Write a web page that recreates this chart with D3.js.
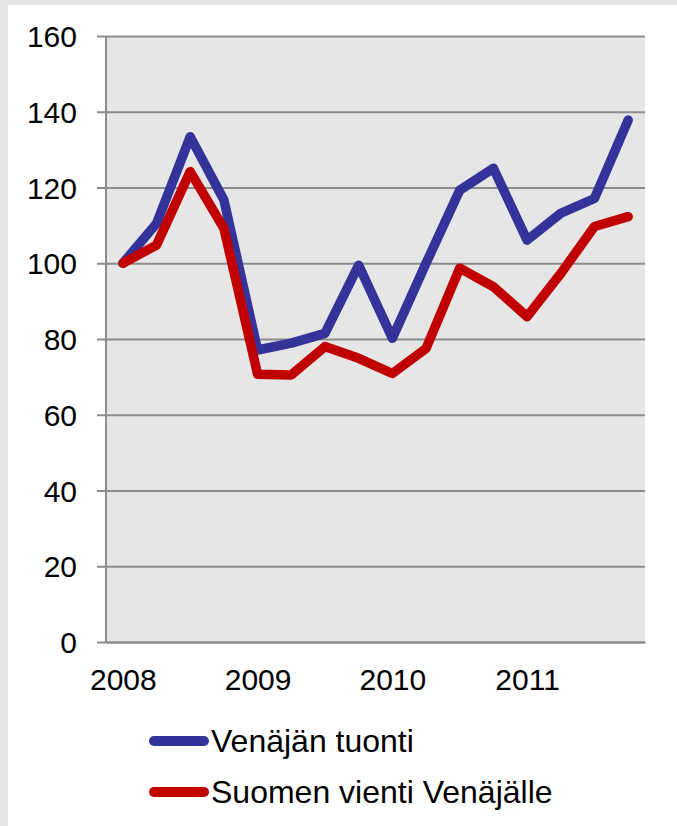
<!DOCTYPE html>
<html>
<head>
<meta charset="utf-8">
<script src="https://cdn.jsdelivr.net/npm/d3@7"></script>
<style>
  html, body { margin: 0; padding: 0; background: #e4e4e4; }
  svg { display: block; }
</style>
</head>
<body>
<script>
const quarters = ["2008Q1","2008Q2","2008Q3","2008Q4","2009Q1","2009Q2","2009Q3","2009Q4",
                  "2010Q1","2010Q2","2010Q3","2010Q4","2011Q1","2011Q2","2011Q3","2011Q4"];
const xTickLabels = {"2008Q1":"2008","2009Q1":"2009","2010Q1":"2010","2011Q1":"2011"};
const venajanTuonti = [100, 110.5, 133.4, 116.7, 77.1, 78.9, 81.5, 99.5,
                       80.2, 100, 119.3, 125.1, 106.1, 113.2, 117.1, 137.8];
const suomenVienti = [100, 104.8, 124.2, 109.2, 70.7, 70.5, 78.0, 74.9,
                      70.9, 77.5, 98.7, 93.8, 85.9, 97.3, 109.7, 112.3];
const yTicks = [0, 20, 40, 60, 80, 100, 120, 140, 160];
const seriesNames = ["Venäjän tuonti", "Suomen vienti Venäjälle"];
const seriesColors = ["#333399", "#c00000"];

(function () {
const W = 677, H = 826;
const svg = d3.select("body").append("svg").attr("width", W).attr("height", H);

// white panel
svg.append("rect").attr("x", 8).attr("y", 5).attr("width", W - 8).attr("height", H - 5).attr("fill", "#ffffff");

const pLeft = 106, pRight = 645, pTop = 36, pBottom = 642;
const x = d3.scalePoint().domain(quarters).range([pLeft, pRight]).padding(0.5);
const y = d3.scaleLinear().domain([0, 160]).range([pBottom, pTop]);

svg.append("rect").attr("x", pLeft).attr("y", pTop).attr("width", pRight - pLeft).attr("height", pBottom - pTop).attr("fill", "#e6e6e6");

const font = "'Liberation Sans', Arial, sans-serif";

// gridlines + y axis
const yAxis = d3.axisLeft(y).tickValues(yTicks).tickSize(pRight - pLeft + 9).tickPadding(20).tickFormat(d3.format("d"));
const gy = svg.append("g").attr("transform", `translate(${pRight},0)`).call(yAxis);
gy.select(".domain").remove();
gy.selectAll(".tick line").attr("stroke", "#8c8c8c").attr("stroke-width", 2);
gy.selectAll(".tick text").attr("font-family", font).attr("font-size", 30).attr("fill", "#000").attr("dy", "0.35em");

// vertical axis line
svg.append("line").attr("x1", pLeft).attr("x2", pLeft).attr("y1", pTop).attr("y2", pBottom + 1)
  .attr("stroke", "#8c8c8c").attr("stroke-width", 2);

// x axis
const xAxis = d3.axisBottom(x).tickSize(0).tickPadding(27)
  .tickValues(quarters.filter(q => xTickLabels[q])).tickFormat(q => xTickLabels[q]);
const gx = svg.append("g").attr("transform", `translate(0,${pBottom})`).call(xAxis);
gx.select(".domain").attr("stroke", "#8c8c8c").attr("stroke-width", 2);
gx.selectAll(".tick text").attr("font-family", font).attr("font-size", 30).attr("fill", "#000");

// lines
const line = d3.line().x((d, i) => x(quarters[i])).y(d => y(d));
[venajanTuonti, suomenVienti].forEach((vals, k) => {
  svg.append("path").datum(vals).attr("d", line).attr("fill", "none")
    .attr("stroke", seriesColors[k]).attr("stroke-width", 9.5)
    .attr("stroke-linecap", "round").attr("stroke-linejoin", "round");
});

// legend
const legendY = [741, 792];
seriesNames.forEach((name, k) => {
  const g = svg.append("g").attr("transform", `translate(0,${legendY[k]})`);
  g.append("line").attr("x1", 154).attr("x2", 204).attr("y1", 0).attr("y2", 0)
    .attr("stroke", seriesColors[k]).attr("stroke-width", 10).attr("stroke-linecap", "round");
  g.append("text").attr("x", 211).attr("y", 0).attr("dy", "0.35em").text(name)
    .attr("font-family", font).attr("font-size", 32).attr("fill", "#000");
});
})();
</script>
</body>
</html>
